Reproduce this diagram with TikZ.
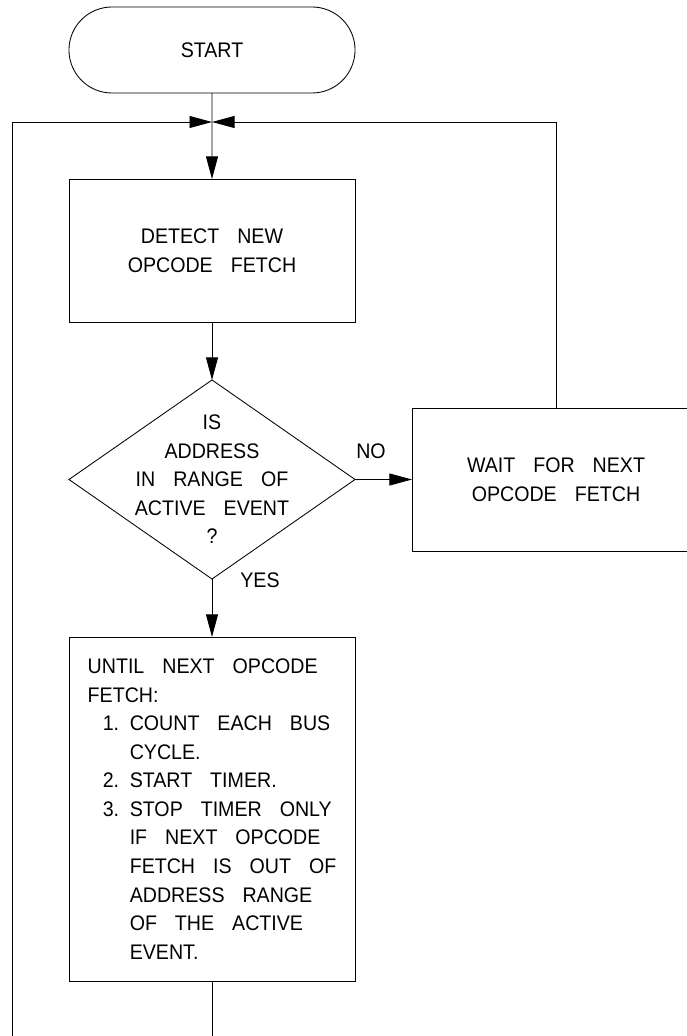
\documentclass[tikz,border=0pt]{standalone}
\usepackage{fontspec}
\setmainfont{Liberation Sans}[FakeStretch=0.93, WordSpace=3.3]
\usetikzlibrary{arrows.meta, shapes.geometric, shapes.misc}
\tikzset{
  chart/.style={draw, line width=0.6pt, inner sep=0pt, outer sep=0pt, minimum width=7.15cm},
  stepbox/.style={chart, rectangle, minimum height=3.575cm, align=center},
  terminal/.style={chart, rounded rectangle, minimum height=2.15cm},
  decision/.style={chart, diamond, minimum height=4.975cm},
  flow/.style={line width=0.6pt, -{Triangle[length=16pt, width=8.5pt]}},
  wire/.style={line width=0.6pt}
}
\newcommand{\itm}[1]{\hspace*{10.7pt}\makebox[19.2pt][l]{#1}}

\begin{document}
\begin{tikzpicture}[x=0.025cm, y=-0.025cm, font=\fontsize{15}{20.3}\selectfont]
\useasboundingbox (0,0) rectangle (686,1036);

\node[terminal] (start) at (212,50) {START};
\node[stepbox] (detect) at (212,250.5) {DETECT NEW\\OPCODE FETCH};
\node[decision, label={[align=center]center:IS\\ADDRESS\\IN RANGE OF\\ACTIVE EVENT\\?}] (dec) at (212,479.5) {};
\node[stepbox, minimum width=7.2cm] (wait) at (556,479.5) {WAIT FOR NEXT\\OPCODE FETCH};
\node[stepbox, minimum height=8.6cm, align=left] (loop) at (212,809) {UNTIL NEXT OPCODE\\FETCH:\\
  \itm{1.}COUNT EACH BUS\\\itm{}CYCLE.\\\itm{2.}START TIMER.\\\itm{3.}STOP TIMER ONLY\\
  \itm{}IF NEXT OPCODE\\\itm{}FETCH IS OUT OF\\\itm{}ADDRESS RANGE\\\itm{}OF THE ACTIVE\\\itm{}EVENT.};
\node (no) at (371,451) {NO};
\node (yes) at (260,580) {YES};

\coordinate (join) at (212,122);
\coordinate (lend) at (12,1040);
\coordinate (bend) at (212,1040);

\draw[flow] (start) -- (detect);
\draw[flow] (lend) |- (join);
\draw[flow] (wait) |- (join);
\draw[flow] (detect) -- (dec);
\draw[flow] (dec) -- (wait);
\draw[flow] (dec) -- (loop);
\draw[wire] (loop) -- (bend);
\end{tikzpicture}
\end{document}
